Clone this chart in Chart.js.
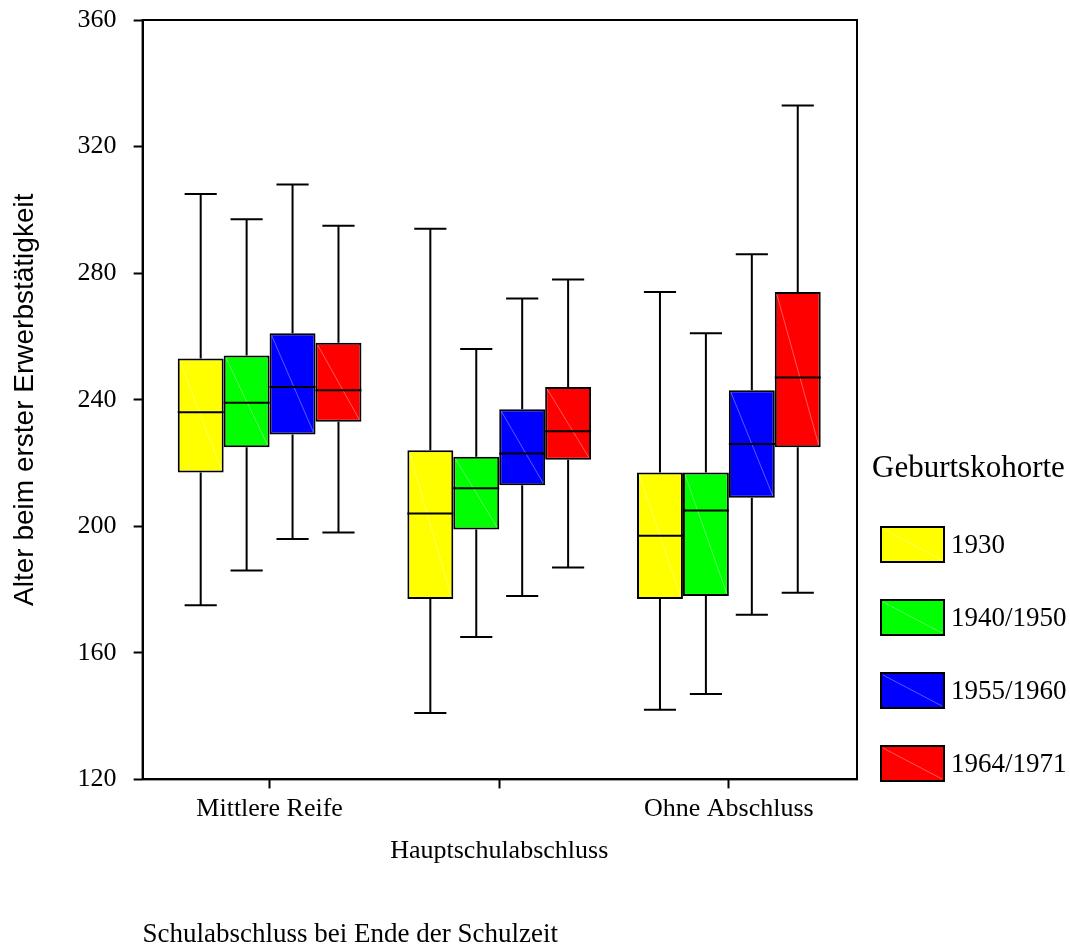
<!DOCTYPE html>
<html>
<head>
<meta charset="utf-8">
<script src="https://cdn.jsdelivr.net/npm/chart.js@4/dist/chart.umd.min.js"></script>
<style>
  body { margin: 0; background: #fff; }
  #wrap { width: 1070px; height: 951px; }
</style>
</head>
<body>
<div id="wrap"><canvas id="boxChart" width="1070" height="951"></canvas></div>
<script>
// Kategorien (x) und Kohorten (Datenreihen)
const categories = ["Mittlere Reife", "Hauptschulabschluss", "Ohne Abschluss"];
const cohorts = ["1930", "1940/1950", "1955/1960", "1964/1971"];
const cohortColors = ["#ffff00", "#00ff00", "#0000ff", "#ff0000"];
const yTicks = [120, 160, 200, 240, 280, 320, 360];

// Kennwerte je Kohorte, Werte je Kategorie
const whiskerLow = [[175, 141, 142], [186, 165, 147], [196, 178, 172], [198, 187, 179]];
const quart1     = [[217, 177, 177], [225, 199, 178], [229, 213, 209], [233, 221, 225]];
const medians    = [[236, 204, 197], [239, 212, 205], [244, 223, 226], [243, 230, 247]];
const quart3     = [[253, 224, 217], [254, 222, 217], [261, 237, 243], [258, 244, 274]];
const whiskerHigh = [[305, 294, 274], [297, 256, 261], [308, 272, 286], [295, 278, 333]];

const datasets = cohorts.map((label, s) => ({
    label: label,
    data: categories.map((c, i) => ({ x: i + 1, y: [quart1[s][i], quart3[s][i]] })),
    backgroundColor: cohortColors[s],
    borderColor: "#000",
    borderWidth: 2,
    borderSkipped: false,
    categoryPercentage: 0.8,
    barPercentage: 1.0
}));

// Whisker, Median und Diagonale der Boxen
const boxExtras = {
    id: "boxExtras",
    afterDatasetsDraw(chart) {
        const ctx = chart.ctx;
        const y = chart.scales.y;
        ctx.save();
        chart.data.datasets.forEach((ds, s) => {
            const meta = chart.getDatasetMeta(s);
            meta.data.forEach((bar, i) => {
                const left = bar.x - bar.width / 2, right = bar.x + bar.width / 2;
                const yq1 = y.getPixelForValue(quart1[s][i]);
                const yq3 = y.getPixelForValue(quart3[s][i]);
                const yLo = y.getPixelForValue(whiskerLow[s][i]);
                const yHi = y.getPixelForValue(whiskerHigh[s][i]);
                const yMed = y.getPixelForValue(medians[s][i]);
                const cap = bar.width * 0.35;

                ctx.strokeStyle = "rgba(255,255,255,0.35)";
                ctx.lineWidth = 1;
                ctx.beginPath();
                ctx.moveTo(left + 2, yq3 + 2);
                ctx.lineTo(right - 2, yq1 - 2);
                ctx.stroke();

                ctx.strokeStyle = "#000";
                ctx.lineWidth = 2;
                ctx.beginPath();
                ctx.moveTo(bar.x, yq3); ctx.lineTo(bar.x, yHi);
                ctx.moveTo(bar.x - cap, yHi); ctx.lineTo(bar.x + cap, yHi);
                ctx.moveTo(bar.x, yq1); ctx.lineTo(bar.x, yLo);
                ctx.moveTo(bar.x - cap, yLo); ctx.lineTo(bar.x + cap, yLo);
                ctx.moveTo(left, yMed); ctx.lineTo(right, yMed);
                ctx.stroke();
            });
        });
        ctx.restore();
    },
    afterDraw(chart) {
        const ctx = chart.ctx;
        const a = chart.chartArea;
        ctx.save();
        ctx.strokeStyle = "#000";
        ctx.lineWidth = 2;
        ctx.strokeRect(a.left, a.top, a.right - a.left, a.bottom - a.top);

        // Legende
        ctx.fillStyle = "#000";
        ctx.textBaseline = "middle";
        ctx.textAlign = "left";
        ctx.font = "31px 'Liberation Serif'";
        ctx.fillText("Geburtskohorte", 872, 469);
        ctx.font = "27px 'Liberation Serif'";
        chart.data.datasets.forEach((ds, s) => {
            const top = 527 + s * 73;
            ctx.fillStyle = ds.backgroundColor;
            ctx.fillRect(881, top, 63, 35);
            ctx.strokeStyle = "rgba(255,255,255,0.35)";
            ctx.lineWidth = 1;
            ctx.beginPath();
            ctx.moveTo(883, top + 2); ctx.lineTo(942, top + 33);
            ctx.stroke();
            ctx.strokeStyle = "#000";
            ctx.lineWidth = 2;
            ctx.strokeRect(881, top, 63, 35);
            ctx.fillStyle = "#000";
            ctx.fillText(ds.label, 951, top + 19);
        });
        ctx.restore();
    }
};

new Chart(document.getElementById("boxChart"), {
    type: "bar",
    data: { datasets: datasets },
    options: {
        responsive: false,
        animation: false,
        layout: { padding: { top: 20, right: 213, bottom: 0, left: 0 } },
        plugins: { legend: { display: false }, tooltip: { enabled: false } },
        scales: {
            x: {
                type: "linear",
                min: 0.447,
                max: 3.558,
                offset: false,
                afterBuildTicks: axis => { axis.ticks = categories.map((c, i) => ({ value: i + 1 })); },
                grid: { offset: false, drawOnChartArea: false, drawTicks: true, tickLength: 9, tickColor: "#000", tickWidth: 2 },
                border: { display: true, color: "#000", width: 2 },
                ticks: {
                    autoSkip: false,
                    maxRotation: 0,
                    padding: 0,
                    color: "#000",
                    font: { family: "'Liberation Serif'", size: 26, lineHeight: 1.6 },
                    callback: v => (v === 2 ? ["", categories[1]] : categories[v - 1])
                },
                title: {
                    display: true,
                    text: "Schulabschluss bei Ende der Schulzeit",
                    align: "start",
                    color: "#000",
                    font: { family: "'Liberation Serif'", size: 27 },
                    padding: { top: 47, bottom: 0 }
                }
            },
            y: {
                min: 120,
                max: 360,
                afterBuildTicks: axis => { axis.ticks = yTicks.map(v => ({ value: v })); },
                afterFit: axis => { axis.paddingTop = 16; axis.paddingBottom = 16; },
                grid: { drawOnChartArea: false, drawTicks: true, tickLength: 9, tickColor: "#000", tickWidth: 2 },
                border: { display: true, color: "#000", width: 2 },
                ticks: {
                    padding: 17,
                    color: "#000",
                    font: { family: "'Liberation Serif'", size: 26 }
                },
                title: {
                    display: true,
                    text: "Alter beim erster Erwerbstätigkeit",
                    color: "#000",
                    font: { family: "'Liberation Sans'", size: 28 },
                    padding: { top: 8, bottom: 19 }
                }
            }
        }
    },
    plugins: [boxExtras]
});
</script>
</body>
</html>
